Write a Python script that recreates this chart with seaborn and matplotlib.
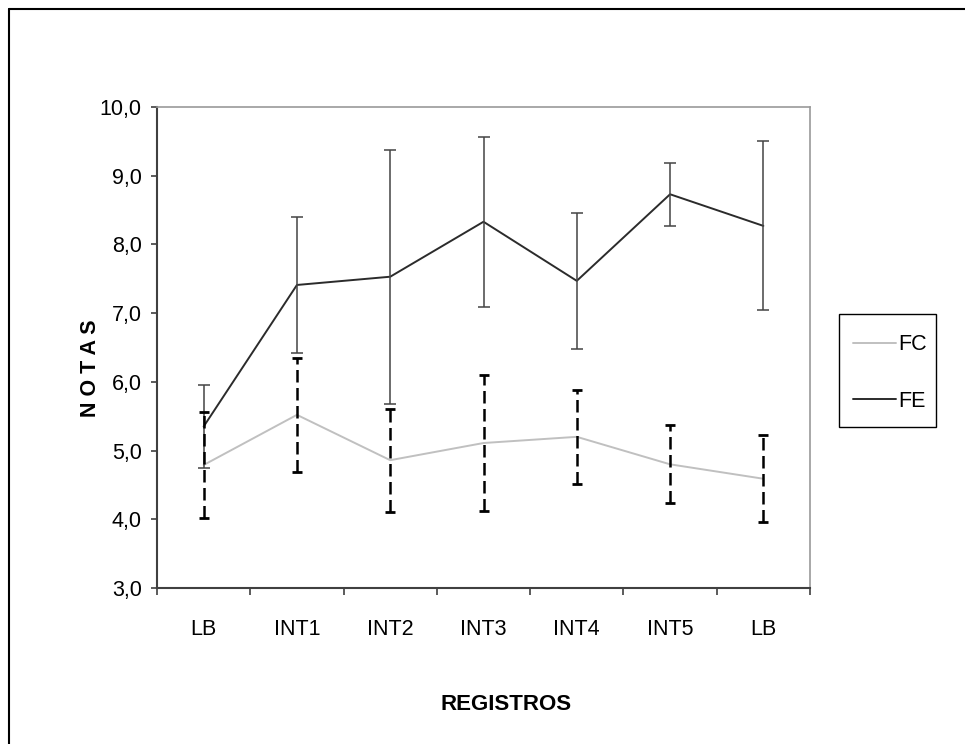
import pandas as pd
import matplotlib
matplotlib.use("Agg")
import matplotlib.pyplot as plt
import seaborn as sns
from matplotlib.lines import Line2D
from matplotlib.patches import Rectangle

# --- data ---
registros = ["LB", "INT1", "INT2", "INT3", "INT4", "INT5", "LB"]
fc_media = [4.79, 5.52, 4.86, 5.11, 5.20, 4.80, 4.59]
fc_dp = [0.77, 0.83, 0.75, 0.99, 0.68, 0.57, 0.63]
fe_media = [5.35, 7.41, 7.53, 8.33, 7.47, 8.73, 8.27]
fe_dp = [0.61, 0.99, 1.85, 1.24, 0.99, 0.46, 1.23]
y_ticks = [3, 4, 5, 6, 7, 8, 9, 10]

pos = list(range(len(registros)))
df = pd.DataFrame({
    "pos": pos * 2,
    "nota": fc_media + fe_media,
    "grupo": ["FC"] * len(pos) + ["FE"] * len(pos),
})

sns.set_theme(style="white")
plt.rcParams["font.family"] = ["Liberation Sans", "DejaVu Sans"]
plt.rcParams["text.color"] = "black"
plt.rcParams["xtick.labelcolor"] = "black"
plt.rcParams["ytick.labelcolor"] = "black"

fig = plt.figure(figsize=(9.65, 7.44), dpi=100)
ax = fig.add_axes([157 / 965, 1 - 588 / 744, (810 - 157) / 965, (588 - 107) / 744])

colors = {"FC": "#c0c0c0", "FE": "#2b2b2b"}
sns.lineplot(data=df, x="pos", y="nota", hue="grupo", palette=colors,
             linewidth=1.4, ax=ax, legend=False, sort=False)

# FE error bars: solid, thin
ax.errorbar(pos, fe_media, yerr=fe_dp, fmt="none", ecolor="#444444",
            elinewidth=1.1, capsize=4.5, capthick=1.1, zorder=3)
# FC error bars: dashed, black
eb = ax.errorbar(pos, fc_media, yerr=fc_dp, fmt="none", ecolor="black",
                 elinewidth=1.8, capsize=3.5, capthick=2.0, zorder=4)
for col in eb[2]:
    col.set_linestyle((0, (5, 2.2)))

ax.set_xlim(-0.5, len(registros) - 0.5)
ax.set_ylim(3, 10)
ax.set_yticks(y_ticks)
ax.set_yticklabels([f"{v:.1f}".replace(".", ",") for v in y_ticks])

ax.set_xticks([p - 0.5 for p in pos] + [len(pos) - 0.5])
ax.set_xticklabels([])
ax.set_xticks(pos, minor=True)
ax.set_xticklabels(registros, minor=True)

ax.tick_params(axis="x", which="major", direction="out", length=5,
               width=1.2, color="#404040", bottom=True)
ax.tick_params(axis="x", which="minor", length=0, pad=22, labelsize=15.5)
ax.tick_params(axis="y", direction="out", length=4, width=1.2,
               color="#404040", left=True, pad=7, labelsize=15.5)

for side in ["left", "bottom"]:
    ax.spines[side].set_color("#404040")
    ax.spines[side].set_linewidth(1.5)
for side in ["top", "right"]:
    ax.spines[side].set_color("#9a9a9a")
    ax.spines[side].set_linewidth(1.2)

ax.set_xlabel("")
ax.set_ylabel("")
fig.text(506 / 965, 1 - 704 / 744, "REGISTROS", ha="center", va="center",
         fontsize=16, fontweight="bold")
fig.text(90 / 965, 1 - 368 / 744, "N O T A S", ha="center", va="center",
         rotation=90, fontsize=15.5, fontweight="bold")

# legend: box drawn at the reference position, entries centred inside
fig.add_artist(Rectangle((839 / 965, 1 - 427 / 744), 97 / 965, 113 / 744,
                         transform=fig.transFigure, fill=False,
                         edgecolor="black", lw=1.0))
handles = [Line2D([], [], color=colors["FC"], lw=1.4),
           Line2D([], [], color=colors["FE"], lw=1.4)]
fig.legend(handles, ["FC", "FE"], loc="center",
           bbox_to_anchor=(890 / 965, 1 - 373 / 744),
           fontsize=15.5, frameon=False,
           handlelength=2.0, handletextpad=0.1, labelspacing=1.66,
           borderpad=0, borderaxespad=0)

# outer chart-area border (only top and left show in the reference)
fig.add_artist(Line2D([9 / 965, 1], [1 - 9 / 744, 1 - 9 / 744],
                      transform=fig.transFigure, color="black", lw=1.5))
fig.add_artist(Line2D([9 / 965, 9 / 965], [0, 1 - 9 / 744],
                      transform=fig.transFigure, color="black", lw=1.5))

fig.savefig("out.png", dpi=100)
